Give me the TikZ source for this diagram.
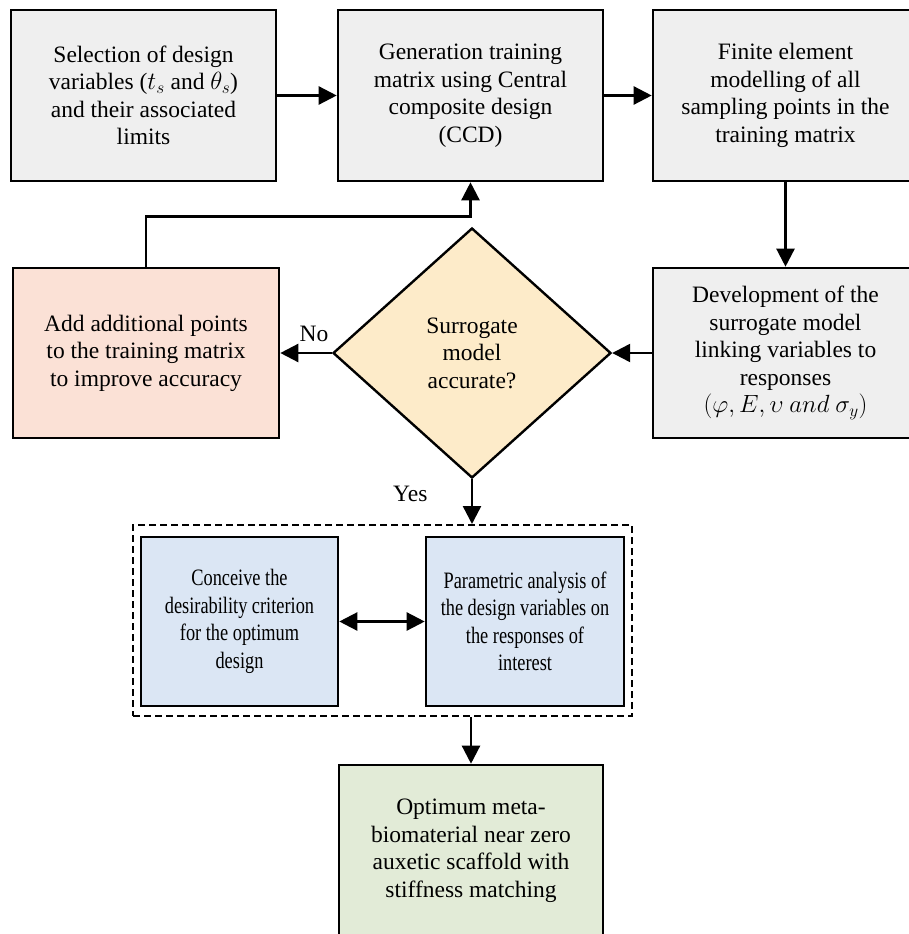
\documentclass[tikz,border=0pt]{standalone}
\usepackage{fontspec}
\setmainfont{Liberation Serif}
\newfontfamily\narrowserif{Liberation Serif}[FakeStretch=0.78]
\usetikzlibrary{shapes.geometric,arrows.meta,calc}
\definecolor{graybox}{HTML}{EFEFEF}
\definecolor{redbox}{HTML}{FBE1D6}
\definecolor{yelbox}{HTML}{FDEBC9}
\definecolor{bluebox}{HTML}{DBE6F4}
\definecolor{greenbox}{HTML}{E2EBD7}
\tikzset{
  x=1pt, y=-1pt,
  stepbox/.style={draw=black, line width=2.6pt, rectangle, align=center, inner sep=0pt,
    font=\fontsize{23.5}{27.5}\selectfont},
  narrowbox/.style={stepbox, font=\narrowserif\fontsize{23.5}{27.5}\selectfont},
  flow/.style={line width=2.4pt, -{Triangle[length=18pt,width=18pt]}},
  lbl/.style={font=\fontsize{23.5}{27.5}\selectfont, inner sep=0pt}
}
\begin{document}
\begin{tikzpicture}
\useasboundingbox (0,0) rectangle (909,934);
\clip (0,0) rectangle (909,934);
\fill[white] (0,0) rectangle (909,934);

\node[stepbox, fill=graybox, minimum width=265pt, minimum height=171pt] (b1) at (143.5,95.5)
  {Selection of design\\variables ($t_s$ and $\theta_s$)\\and their associated\\limits};
\node[stepbox, fill=graybox, minimum width=265pt, minimum height=171pt] (b2) at (470.5,95.5)
  {Generation training\\matrix using Central\\composite design\\(CCD)};
\node[stepbox, fill=graybox, minimum width=265pt, minimum height=171pt] (b3) at (785.5,95.5)
  {Finite element\\modelling of all\\sampling points in the\\training matrix};
\node[stepbox, fill=graybox, minimum width=265pt, minimum height=170pt] (b4) at (785.5,353)
  {\rule{0pt}{8pt}Development of the\\surrogate model\\linking variables to\\responses\\$(\varphi, E, \upsilon\ and\ \sigma_y)$};
\node[stepbox, draw, diamond, fill=yelbox, line width=2.4pt, minimum width=278pt, minimum height=250pt] (dia) at (472,353)
  {Surrogate\\model\\accurate?};
\node[stepbox, fill=redbox, minimum width=266pt, minimum height=170pt] (b5) at (146,353)
  {Add additional points\\to the training matrix\\to improve accuracy};

\node[draw=black, dashed, dash pattern=on 7pt off 4pt, line width=2pt, minimum width=499pt, minimum height=191pt, inner sep=0pt] (grp) at (382.5,620.5) {};
\node[narrowbox, fill=bluebox, minimum width=197pt, minimum height=169pt] (b6) at (239.5,621.5)
  {Conceive the\\desirability criterion\\for the optimum\\design};
\node[narrowbox, fill=bluebox, minimum width=198pt, minimum height=169pt] (b7) at (525,621.5)
  {Parametric analysis of\\the design variables on\\the responses of\\interest};
\node[stepbox, fill=greenbox, minimum width=264pt, minimum height=171pt] (b8) at (471,850.5)
  {Optimum meta-\\biomaterial near zero\\auxetic scaffold with\\stiffness matching};

\draw[flow] (b1.east) -- (b2.west);
\draw[flow] (b2.east) -- (b3.west);
\draw[flow] (b3.south) -- (b4.north);
\draw[flow] (b4.west) -- (dia.east);
\draw[flow] (dia.west) -- (b5.east);
\coordinate (turn) at ($(b2.south)+(0,34)$);
\draw[flow] (b5.north) |- (turn) -| (b2.south);
\draw[flow] (dia.south) -- (dia.south |- grp.north);
\draw[line width=2.4pt, {Triangle[length=18pt,width=18pt]}-{Triangle[length=18pt,width=18pt]}] (b6.east) -- (b7.west);
\draw[flow] (b8.north |- grp.south) -- (b8.north);

\node[lbl] (no) at (314,334) {No};
\node[lbl, anchor=west] (yes) at (393,494) {Yes};
\end{tikzpicture}
\end{document}
